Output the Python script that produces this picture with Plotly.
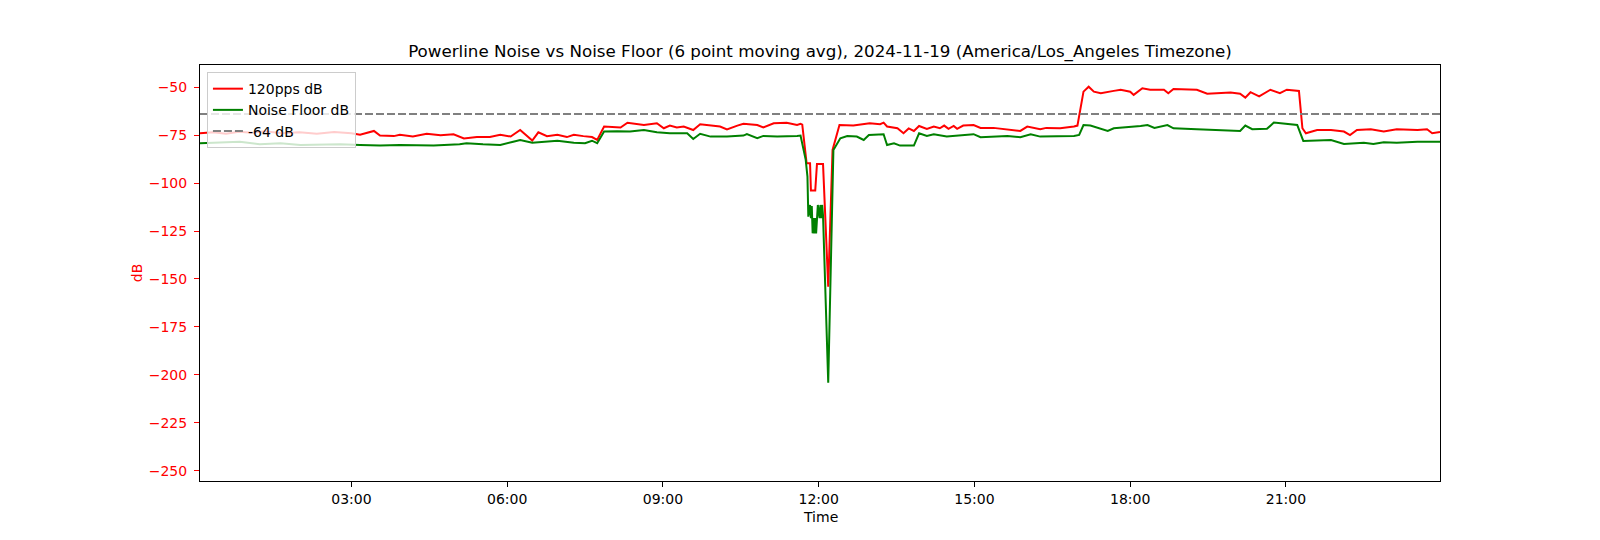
import plotly.graph_objects as go

DATE = "2024-11-19"
TITLE = "Powerline Noise vs Noise Floor (6 point moving avg), 2024-11-19 (America/Los_Angeles Timezone)"

# 120pps dB series (time of day, dB)
pps_times = [
    "00:05", "00:20", "00:35", "00:50", "01:05", "01:20", "01:40", "02:00", "02:20", "02:40",
    "03:00", "03:10", "03:26", "03:33", "03:49", "03:56", "04:11", "04:27", "04:43", "04:58",
    "05:10", "05:25", "05:40", "05:52", "06:04", "06:15", "06:29", "06:36", "06:46", "06:58",
    "07:09", "07:17", "07:28", "07:38", "07:44", "07:52", "08:11", "08:19", "08:38", "08:53",
    "09:01", "09:08", "09:16", "09:24", "09:35", "09:43", "10:06", "10:14", "10:26", "10:33",
    "10:49", "10:56", "11:08", "11:23", "11:35", "11:39", "11:41", "11:46", "11:50", "11:51",
    "11:56", "11:58", "12:05", "12:11", "12:16", "12:24", "12:40", "12:59", "13:11", "13:15",
    "13:19", "13:31", "13:38", "13:44", "13:50", "13:56", "14:05", "14:13", "14:20", "14:25",
    "14:30", "14:36", "14:40", "14:47", "14:59", "15:07", "15:22", "15:38", "15:53", "16:01",
    "16:16", "16:23", "16:39", "16:55", "16:59", "17:06", "17:12", "17:18", "17:26", "17:41",
    "17:49", "18:00", "18:04", "18:14", "18:23", "18:39", "18:44", "18:50", "19:17", "19:29",
    "19:56", "20:07", "20:13", "20:19", "20:29", "20:42", "20:53", "21:01", "21:15", "21:19",
    "21:23", "21:36", "21:52", "22:07", "22:14", "22:22", "22:38", "22:53", "23:08", "23:32",
    "23:43", "23:49", "23:58",
]
pps_db = [
    -74.0, -73.5, -74.2, -73.2, -73.8, -73.0, -74.0, -73.5, -74.2, -73.4,
    -74.0, -74.8, -72.8, -75.2, -75.5, -74.8, -75.7, -74.3, -75.1, -74.5,
    -76.7, -76.0, -76.0, -74.8, -75.7, -72.3, -77.8, -73.5, -75.5, -74.8,
    -76.0, -74.8, -75.5, -76.0, -77.5, -70.5, -71.0, -68.5, -69.7, -68.8,
    -71.4, -70.0, -71.0, -70.5, -72.3, -69.3, -70.5, -72.0, -70.0, -69.1,
    -69.7, -71.0, -68.8, -68.5, -69.7, -69.1, -69.5, -89.6, -89.6, -103.9,
    -103.9, -90.0, -90.0, -154.0, -82.7, -69.7, -70.0, -68.8, -69.3, -68.5,
    -70.5, -71.4, -74.0, -71.5, -72.8, -70.2, -71.7, -70.5, -71.4, -70.0,
    -71.7, -70.2, -71.7, -70.0, -69.7, -71.2, -71.2, -71.9, -72.8, -70.5,
    -71.9, -71.2, -71.4, -70.5, -70.0, -52.3, -49.7, -52.3, -53.1, -51.9,
    -51.3, -52.3, -54.0, -50.5, -51.3, -51.3, -53.1, -50.9, -51.3, -53.4,
    -52.8, -53.4, -55.4, -52.6, -54.8, -51.3, -53.1, -51.3, -51.9, -71.4,
    -74.0, -72.3, -72.3, -73.1, -75.0, -72.3, -71.9, -73.1, -71.9, -72.3,
    -71.9, -74.0, -73.3,
]

# Noise Floor dB series
floor_times = [
    "00:05", "00:28", "00:51", "01:14", "01:38", "02:01", "02:47", "03:10", "03:33", "03:56",
    "04:35", "05:05", "05:13", "05:32", "05:52", "06:07", "06:15", "06:29", "06:46", "06:58",
    "07:17", "07:30", "07:38", "07:44", "07:52", "08:07", "08:22", "08:38", "08:53", "09:08",
    "09:28", "09:35", "09:43", "09:55", "10:14", "10:33", "10:37", "10:49", "10:56", "11:12",
    "11:35", "11:39", "11:45", "11:47", "11:48", "11:50", "11:51", "11:52", "11:53", "11:54",
    "11:55", "11:56", "11:57", "11:58", "11:59", "12:01", "12:02", "12:03", "12:04", "12:05",
    "12:11", "12:17", "12:25", "12:33", "12:44", "12:52", "12:58", "13:15", "13:19", "13:27",
    "13:34", "13:50", "13:56", "14:05", "14:13", "14:28", "14:44", "14:59", "15:07", "15:38",
    "15:53", "16:05", "16:16", "16:55", "17:01", "17:06", "17:14", "17:22", "17:34", "17:41",
    "18:00", "18:12", "18:20", "18:28", "18:43", "18:50", "19:17", "19:41", "20:07", "20:13",
    "20:21", "20:38", "20:46", "21:13", "21:20", "21:52", "22:07", "22:30", "22:41", "22:53",
    "23:08", "23:32", "23:58",
]
floor_db = [
    -79.2, -78.9, -78.4, -79.75, -79.2, -80.1, -79.75, -80.1, -80.45, -80.1,
    -80.45, -79.75, -79.2, -79.75, -80.1, -78.4, -77.5, -78.9, -78.4, -77.9,
    -78.9, -79.2, -77.9, -79.2, -73.1, -72.9, -73.1, -72.3, -73.5, -74.0,
    -74.0, -77.0, -74.3, -75.75, -75.75, -75.2, -74.4, -76.6, -75.4, -75.75,
    -75.4, -75.2, -87.9, -96.6, -117.5, -111.4, -118.3, -112.0, -126.2, -118.3,
    -126.2, -118.3, -126.2, -118.3, -111.4, -118.3, -111.4, -118.3, -111.4, -117.0,
    -204.1, -82.7, -76.6, -75.4, -75.75, -77.5, -74.9, -74.5, -80.1, -79.2,
    -80.45, -80.45, -74.0, -75.4, -74.5, -75.75, -75.2, -74.5, -76.1, -75.4,
    -76.1, -74.5, -75.75, -75.4, -74.9, -69.7, -70.0, -71.2, -72.8, -71.4,
    -70.9, -70.2, -69.7, -71.2, -69.7, -71.4, -71.9, -72.3, -72.8, -70.0,
    -71.9, -71.7, -68.45, -69.7, -78.0, -77.5, -79.6, -78.9, -79.6, -78.7,
    -78.9, -78.4, -78.4,
]

THRESHOLD_DB = -64
y_ticks = [-250, -225, -200, -175, -150, -125, -100, -75, -50]
x_ticks = ["03:00", "06:00", "09:00", "12:00", "15:00", "18:00", "21:00"]


def stamp(t):
    return f"{DATE} {t}"


FONT = "DejaVu Sans"

fig = go.Figure()
fig.add_trace(go.Scatter(
    x=[stamp(t) for t in pps_times], y=pps_db, mode="lines",
    name="120pps dB", line=dict(color="red", width=2),
))
fig.add_trace(go.Scatter(
    x=[stamp(t) for t in floor_times], y=floor_db, mode="lines",
    name="Noise Floor dB", line=dict(color="green", width=2),
))
fig.add_trace(go.Scatter(
    x=[stamp(pps_times[0]), stamp(pps_times[-1])], y=[THRESHOLD_DB, THRESHOLD_DB],
    mode="lines", name=f"{THRESHOLD_DB} dB",
    line=dict(color="gray", width=2, dash="8px,3px"),
))

# page body has an 8px margin, so the figure is sized/offset to compensate
fig.update_layout(
    width=1592, height=532,
    margin=dict(l=192, r=160, t=57, b=59),
    paper_bgcolor="white", plot_bgcolor="white",
    font=dict(family=FONT, size=14, color="black"),
    title=dict(text=TITLE, x=0.5, xref="paper", xanchor="center", y=1 - 43 / 532, yref="container",
               yanchor="middle", font=dict(size=16.7, color="black", family=FONT)),
    showlegend=True,
    legend=dict(x=0.0056, y=0.983, xanchor="left", yanchor="top",
                bgcolor="rgba(255,255,255,0.8)", bordercolor="#cccccc", borderwidth=1,
                font=dict(size=14, family=FONT), tracegroupgap=0, itemwidth=30),
    xaxis=dict(
        type="date",
        range=[stamp(pps_times[0]), stamp(pps_times[-1])],
        tickvals=[stamp(t) for t in x_ticks], ticktext=x_ticks,
        showgrid=False, zeroline=False,
        showline=True, linecolor="black", linewidth=1, mirror=True,
        ticks="outside", ticklen=5, tickcolor="black", tickwidth=1,
        tickfont=dict(size=14, color="black"),
    ),
    yaxis=dict(
        range=[-255.4, -38.4],
        tickvals=y_ticks,
        showgrid=False, zeroline=False,
        showline=True, linecolor="black", linewidth=1, mirror=True,
        ticks="outside", ticklen=5, tickcolor="red", tickwidth=1,
        ticklabelstandoff=4,
        tickfont=dict(size=14, color="red"),
        title=dict(text="dB", font=dict(size=14, color="red"), standoff=2),
    ),
    annotations=[dict(
        text="Time", xref="paper", yref="paper", x=0.5, y=-36 / 416,
        xanchor="center", yanchor="middle", showarrow=False,
        font=dict(size=14, color="black", family=FONT),
    )],
)

fig.write_html("out.html")
